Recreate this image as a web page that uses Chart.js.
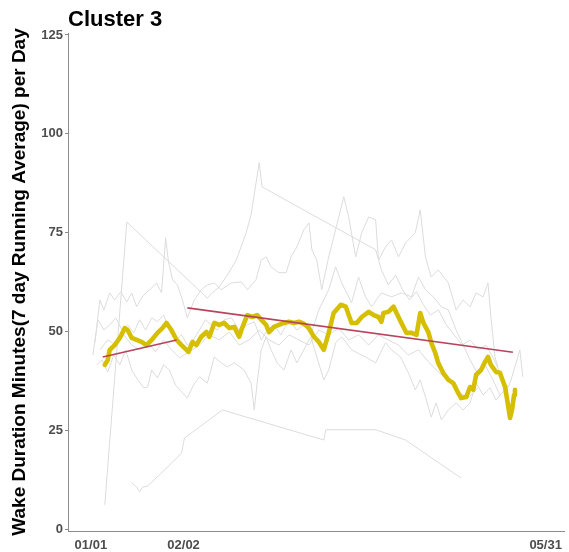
<!DOCTYPE html>
<html>
<head>
<meta charset="utf-8">
<script src="https://cdn.jsdelivr.net/npm/chart.js@4.4.1/dist/chart.umd.min.js"></script>
<style>
  body { margin: 0; background: #fff; }
  #wrap { position: relative; width: 569px; height: 552px; }
  #title {
    position: absolute; left: 68px; top: 8px;
    font: bold 22px "Liberation Sans", Arial, sans-serif; line-height: 22px; color: #000;
  }
</style>
</head>
<body>
<div id="wrap">
  <div id="title">Cluster 3</div>
  <canvas id="chart" width="569" height="552"></canvas>
</div>
<script>
// x = days since 01/01
const tickDays = [0, 32, 157];
const tickLabels = ["01/01", "02/02", "05/31"];
const yTicks = [0, 25, 50, 75, 100, 125];

// cluster average (yellow)
const avgDays = [4.8,5.8,6.5,8.2,10.0,11.7,12.7,14.1,15.8,17.5,19.2,21.0,23.0,24.7,26.1,27.8,29.6,31.3,33.0,33.7,35.1,36.4,38.1,39.9,40.9,42.6,44.3,46.0,47.8,49.5,51.2,52.2,54.0,55.7,57.4,58.8,60.5,61.5,63.2,64.9,66.7,68.4,70.1,71.8,73.5,75.3,77.0,78.7,80.4,82.1,83.8,86.3,88.0,90.0,91.8,93.5,95.9,97.6,99.3,100.3,101.0,102.7,104.5,105.5,107.2,108.9,110.7,112.4,113.7,114.8,116.5,117.5,118.9,119.9,121.6,123.4,125.1,126.8,127.8,129.6,130.9,132.0,133.0,134.7,136.1,137.1,138.1,139.9,141.2,143.0,144.0,144.7,145.4,146.1,146.4];
const avgValues = [41.6,42.8,45.4,46.6,48.4,50.9,50.4,48.4,47.9,47.4,46.6,47.9,49.7,50.9,52.2,50.4,47.9,46.6,45.4,44.9,47.4,46.6,48.7,49.9,48.7,52.2,51.7,52.2,50.9,51.2,48.7,50.9,54.2,53.7,54.2,53.0,51.7,49.9,51.2,51.7,52.2,52.5,52.2,52.5,52.0,50.9,48.7,47.4,45.4,49.7,54.7,56.8,56.3,52.2,52.2,53.7,55.0,54.2,53.7,52.5,54.7,55.0,56.3,54.7,52.2,49.7,49.7,49.2,54.7,52.2,49.9,47.2,44.6,42.1,39.6,37.8,37.0,34.5,33.2,33.5,36.0,35.3,39.1,40.3,42.4,43.6,41.6,39.8,39.6,36.0,31.5,28.2,30.3,34.0,35.3];

// trend segments (red)
const trend1Days = [4.1, 29.6];
const trend1Values = [43.6, 47.9];
const trend2Days = [33.3, 145.7];
const trend2Values = [56.0, 44.8];

// individual members (grey)
const g1Days = [4.8,12.4,40.2,41.9,44.3,47.1,50.2,53.6,55.3,57.0,58.1,59.1,98.3,100.3,102.7,105.2,107.6,110.0,112.4,114.8,117.2,120.0,122.7,125.4,128.2,130.9,133.7,136.4,139.2,141.6,143.3,144.7,146.4,148.1,149.1];
const g1Values = [6.2,77.7,58.5,59.8,61.3,64.3,68.1,75.0,79.5,87.6,92.7,86.6,70.7,65.6,61.8,64.3,60.6,58.0,60.1,56.8,54.2,55.5,51.7,49.2,46.6,47.9,45.4,46.6,42.9,39.1,34.8,37.0,41.1,45.4,38.6];

const g2Days = [14.1,15.8,16.8,17.9,19.6,25.4,31.3,32.3,37.5,45.4,80.4,81.1,98.3,108.6,127.8];
const g2Values = [11.8,10.7,9.5,10.7,11.0,15.0,19.3,23.1,25.9,30.2,22.6,25.2,25.2,22.6,13.0];

const g3Days = [1.4,3.1,4.5,6.5,8.2,10.3,12.4,14.1,15.8,17.9,20.3,22.7,24.4,25.8,26.8,28.2,29.9,31.6,33.3,35.7,38.1,40.2,42.6,45.0,48.5,51.9,54.0,57.0,58.8,60.5,62.2,64.9,67.4,69.1,71.1,73.5,75.3,76.3,78.0,79.7,82.1,85.6,87.3,89.0,91.4,93.5,95.9,98.3,99.3,101.7,103.8,106.2,108.6,112.0,113.7,115.5,117.5,119.9,123.4,126.1,128.5,130.9,133.0,135.4,137.1,138.1,139.5,140.5];
const g3Values = [47.2,58.0,55.5,59.8,58.0,60.1,57.5,59.8,56.3,59.0,60.6,62.3,59.8,73.7,67.6,63.1,61.8,58.0,53.5,58.0,60.6,61.8,62.3,60.6,62.3,62.6,60.6,63.1,68.1,68.9,66.4,64.9,64.9,68.9,71.4,75.7,77.5,70.7,68.1,60.6,68.9,79.0,84.1,79.0,68.9,75.0,79.0,78.3,68.1,71.4,73.2,68.9,72.4,75.0,80.8,68.9,63.8,65.6,62.3,55.5,58.0,56.3,59.8,58.8,62.3,53.7,43.6,41.1];

const g4Days = [0.7,2.4,4.5,6.5,8.6,10.7,12.7,14.8,16.8,18.9,21.0,23.0,25.1,27.1,29.2,31.3,33.3,35.4,37.5,39.5,41.6,43.6,46.0,48.5,51.2,54.0,56.4,58.8,60.8,63.2,65.6,68.4,71.1,73.5,75.9,78.7,82.1,84.5,86.6,90.0,92.4,94.8,96.9,100.3,103.8,107.2,110.7,113.1,115.5,118.2,121.0,123.4,126.1,128.5,130.9,133.7,136.1,138.8,141.2,143.3];
const g4Values = [44.1,53.0,50.4,51.7,53.5,50.4,51.7,49.7,53.0,50.4,53.5,52.5,54.2,50.4,47.9,49.2,46.6,47.9,50.4,53.0,51.7,50.4,53.0,53.5,50.4,51.7,52.5,47.9,50.4,51.7,49.2,53.0,50.4,51.7,49.2,55.5,60.6,66.4,62.3,57.3,63.8,58.8,56.3,59.8,58.8,59.8,58.8,63.8,60.6,58.8,56.3,55.5,50.4,46.6,42.9,39.1,41.6,37.8,34.0,35.3];

const g5Days = [2.1,3.8,5.8,7.9,10.0,12.0,14.1,16.2,18.2,19.6,21.0,23.0,25.1,27.1,29.2,31.3,33.3,35.4,37.5,40.2,42.6,45.0,47.1,49.5,52.9,55.3,56.4,57.4,58.8,60.5,62.2,64.3,66.7,69.1,71.1,73.5,75.9,78.0,80.4,82.1,84.5,86.6,90.0,94.8,98.3,101.7,103.8,106.9,109.6,112.0,113.7,115.5,117.5,119.2,121.0,123.4,126.1,128.5,130.9,133.0,135.4,137.8,139.9,142.3,144.0];
const g5Values = [41.6,42.9,39.8,44.1,41.6,45.4,40.3,37.8,35.8,36.0,40.3,38.3,41.6,40.3,36.5,34.8,33.2,36.5,38.6,37.0,43.6,42.1,41.1,42.1,40.3,37.0,30.2,37.0,45.4,48.7,45.4,42.1,40.3,45.4,42.1,45.4,48.7,43.6,37.8,40.3,47.2,48.7,45.4,43.6,42.1,47.2,45.4,43.6,39.6,35.3,37.8,33.5,28.4,32.0,27.7,30.2,32.0,30.2,32.0,37.0,34.0,35.8,32.7,34.8,36.5];

const g6Days = [3.1,5.8,8.6,11.3,14.1,16.8,19.6,22.3,25.1,27.8,30.6,34.0,37.5,40.9,44.3,47.8,51.2,54.6,58.1,61.5,64.9,68.4,71.8,75.3,78.7,82.1,85.6,89.0,92.4,95.9,99.3,102.7,106.2,109.6,113.1,116.5,119.9,123.4,126.8,130.2,133.7];
const g6Values = [45.4,47.9,46.6,49.2,46.6,45.4,47.4,44.9,47.9,45.4,43.4,44.9,46.6,49.2,47.9,49.9,46.6,47.9,50.4,47.9,46.6,49.2,47.9,46.6,50.4,49.2,50.9,47.9,49.2,46.6,49.2,47.9,46.6,44.1,45.4,42.4,39.8,37.8,34.8,33.2,35.8];

const grayDays = [g1Days, g2Days, g3Days, g4Days, g5Days, g6Days];
const grayValues = [g1Values, g2Values, g3Values, g4Values, g5Values, g6Values];

const FONT = '"Liberation Sans", Arial, sans-serif';

function toPoints(days, values) {
  return days.map((d, i) => ({ x: d, y: values[i] }));
}

const datasets = [
  { data: toPoints(trend1Days, trend1Values), borderColor: "#b8435c", borderWidth: 1.6 },
  { data: toPoints(trend2Days, trend2Values), borderColor: "#b8435c", borderWidth: 1.6 },
  { data: toPoints(avgDays, avgValues), borderColor: "#d5bf00", borderWidth: 4.6, borderJoinStyle: "round", borderCapStyle: "round" }
];
grayDays.forEach((days, i) => {
  datasets.push({ data: toPoints(days, grayValues[i]), borderColor: "#dcdcdc", borderWidth: 1 });
});
datasets.forEach(ds => { ds.pointRadius = 0; ds.tension = 0; ds.fill = false; });

new Chart(document.getElementById("chart"), {
  type: "line",
  data: { datasets: datasets },
  options: {
    responsive: false,
    animation: false,
    layout: { padding: { top: 33, right: 2, bottom: 0, left: 0 } },
    plugins: { legend: { display: false }, tooltip: { enabled: false } },
    scales: {
      x: {
        type: "linear",
        min: -7.9,
        max: 163.6,
        afterBuildTicks: s => { s.ticks = tickDays.map(v => ({ value: v })); },
        afterFit: s => { s.height = 21; },
        grid: { display: false, drawTicks: false },
        border: { display: true, color: "#8c8c8c", width: 1 },
        ticks: {
          autoSkip: false, maxRotation: 0, padding: 7,
          color: "#4d4d4d", font: { family: FONT, size: 13, weight: "bold" },
          callback: (v, i) => tickLabels[i]
        }
      },
      y: {
        min: -0.4,
        max: 125.5,
        afterBuildTicks: s => { s.ticks = yTicks.map(v => ({ value: v })); },
        afterFit: s => { s.width = 68; },
        grid: { drawOnChartArea: false, drawTicks: true, tickLength: 3, color: "#8c8c8c" },
        border: { display: true, color: "#8c8c8c", width: 1 },
        ticks: {
          padding: 2, color: "#4d4d4d",
          font: { family: FONT, size: 13, weight: "bold" }
        },
        title: {
          display: true,
          text: "Wake Duration Minutes(7 day Running Average) per Day",
          color: "#000",
          font: { family: FONT, size: 19, weight: "bold" },
          padding: { top: 8, bottom: 0 }
        }
      }
    }
  }
});
</script>
</body>
</html>
